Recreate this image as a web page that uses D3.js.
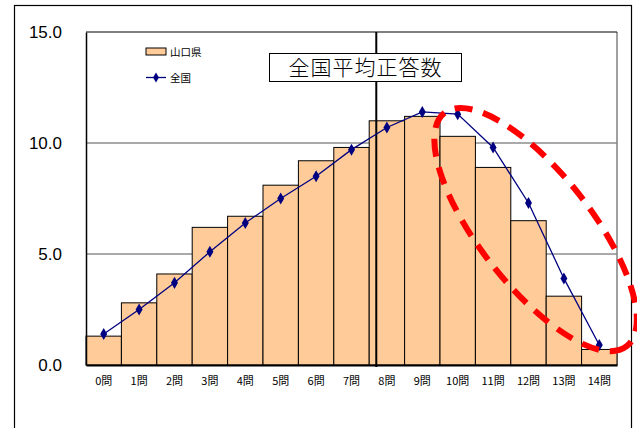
<!DOCTYPE html>
<html>
<head>
<meta charset="utf-8">
<script src="https://cdn.jsdelivr.net/npm/d3@7"></script>
<style>
  body { margin: 0; background: #fff; }
  svg { display: block; }
</style>
</head>
<body>
<div id="chart"></div>
<script>
// categories / values
const questions = ['0問', '1問', '2問', '3問', '4問', '5問', '6問', '7問', '8問', '9問', '10問', '11問', '12問', '13問', '14問'];
const yamaguchi = [1.3, 2.8, 4.1, 6.2, 6.7, 8.1, 9.2, 9.8, 11.0, 11.2, 10.3, 8.9, 6.5, 3.1, 0.7];
const zenkoku = [1.4, 2.5, 3.7, 5.1, 6.4, 7.5, 8.5, 9.7, 10.7, 11.4, 11.3, 9.8, 7.3, 3.9, 0.9];
const yTicks = [0, 5, 10, 15];
const avgScore = 7.7; // 全国平均正答数 line position (in questions)
const seriesNames = ['山口県', '全国'];

const width = 637;
const height = 428;

const svg = d3.select('#chart')
  .append('svg')
  .attr('width', width)
  .attr('height', height);

// outer chart frame (bottom runs off the picture)
svg.append('rect')
  .attr('x', 14.5).attr('y', 5.5)
  .attr('width', 617).attr('height', 440)
  .attr('fill', 'none')
  .attr('stroke', '#000')
  .attr('stroke-width', 1.2);

const plot = { left: 86, right: 617, top: 32, bottom: 365 };

const x = d3.scaleBand()
  .domain(questions)
  .range([plot.left, plot.right])
  .padding(0);

const y = d3.scaleLinear()
  .domain([0, 15])
  .range([plot.bottom, plot.top]);

// linear helper for positions between categories
const xc = d3.scaleLinear()
  .domain([0, questions.length - 1])
  .range([x(questions[0]) + x.bandwidth() / 2, x(questions[questions.length - 1]) + x.bandwidth() / 2]);

// gridlines
svg.append('g')
  .selectAll('line')
  .data(yTicks.filter(d => d > 0 && d < 15))
  .enter()
  .append('line')
  .attr('x1', plot.left).attr('x2', plot.right)
  .attr('y1', d => y(d)).attr('y2', d => y(d))
  .attr('stroke', '#555')
  .attr('stroke-width', 1);

// plot border: right gray, top black
svg.append('line')
  .attr('x1', plot.right).attr('x2', plot.right)
  .attr('y1', plot.top).attr('y2', plot.bottom)
  .attr('stroke', '#808080').attr('stroke-width', 1.5);
svg.append('line')
  .attr('x1', plot.left).attr('x2', plot.right)
  .attr('y1', plot.top).attr('y2', plot.top)
  .attr('stroke', '#000').attr('stroke-width', 1.2);

// bars
svg.append('g')
  .selectAll('.bar')
  .data(yamaguchi)
  .enter()
  .append('rect')
  .attr('class', 'bar')
  .attr('x', (d, i) => x(questions[i]))
  .attr('y', d => y(d))
  .attr('width', x.bandwidth())
  .attr('height', d => y(0) - y(d))
  .attr('fill', '#FFCC99')
  .attr('stroke', '#000')
  .attr('stroke-width', 1);

// axes
const axisY = d3.axisLeft(y).tickValues(yTicks).tickSize(0).tickPadding(24).tickFormat(d3.format('.1f'));
const gy = svg.append('g')
  .attr('transform', `translate(${plot.left}, 0)`)
  .call(axisY);
gy.select('.domain').attr('stroke', '#000').attr('stroke-width', 1.5);
gy.selectAll('text')
  .attr('font-family', 'Arial, "Liberation Sans", sans-serif')
  .attr('font-size', 17)
  .attr('fill', '#000');

const axisX = d3.axisBottom(x).tickSize(0).tickPadding(12);
const gx = svg.append('g')
  .attr('transform', `translate(0, ${plot.bottom})`)
  .call(axisX);
gx.select('.domain').attr('stroke', '#000').attr('stroke-width', 2);
gx.selectAll('text')
  .attr('font-family', '"Noto Sans CJK JP", sans-serif')
  .attr('font-size', 11)
  .attr('fill', '#000');

// average line
svg.append('line')
  .attr('x1', xc(avgScore)).attr('x2', xc(avgScore))
  .attr('y1', plot.top).attr('y2', plot.bottom + 2)
  .attr('stroke', '#000')
  .attr('stroke-width', 2);

// 全国 line
const line = d3.line()
  .x((d, i) => xc(i))
  .y(d => y(d));

svg.append('path')
  .datum(zenkoku)
  .attr('d', line)
  .attr('fill', 'none')
  .attr('stroke', '#000080')
  .attr('stroke-width', 1.3);

const diamond = d3.symbol().type(d3.symbolDiamond).size(42);
svg.append('g')
  .selectAll('path')
  .data(zenkoku)
  .enter()
  .append('path')
  .attr('d', diamond)
  .attr('transform', (d, i) => `translate(${xc(i)}, ${y(d)})`)
  .attr('fill', '#000080');

// legend
const legend = svg.append('g').attr('transform', 'translate(146, 0)');
legend.append('rect')
  .attr('x', 0).attr('y', 48)
  .attr('width', 20).attr('height', 7)
  .attr('fill', '#FFCC99')
  .attr('stroke', '#000');
legend.append('text')
  .attr('x', 24).attr('y', 56)
  .attr('font-family', '"Noto Sans CJK JP", sans-serif')
  .attr('font-size', 10.5)
  .text(seriesNames[0]);
legend.append('line')
  .attr('x1', 0).attr('x2', 20)
  .attr('y1', 77.5).attr('y2', 77.5)
  .attr('stroke', '#000080').attr('stroke-width', 1.3);
legend.append('path')
  .attr('d', d3.symbol().type(d3.symbolDiamond).size(30))
  .attr('transform', 'translate(10, 77.5)')
  .attr('fill', '#000080');
legend.append('text')
  .attr('x', 24).attr('y', 81.5)
  .attr('font-family', '"Noto Sans CJK JP", sans-serif')
  .attr('font-size', 10.5)
  .text(seriesNames[1]);

// title box
const title = svg.append('g');
title.append('rect')
  .attr('x', 269.5).attr('y', 53.5)
  .attr('width', 192).attr('height', 28)
  .attr('fill', '#fff')
  .attr('stroke', '#000')
  .attr('stroke-width', 1);
title.append('text')
  .attr('x', 365.5).attr('y', 75)
  .attr('text-anchor', 'middle')
  .attr('font-family', '"Noto Sans CJK JP", sans-serif')
  .attr('font-weight', 300)
  .attr('font-size', 21)
  .attr('letter-spacing', 1)
  .text('全国平均正答数');

// red dashed ellipse annotation around the lower-scoring range
const ellipseCenter = { q: 12.2, v: 6.1 };
svg.append('ellipse')
  .attr('cx', 0).attr('cy', 0)
  .attr('rx', 148).attr('ry', 56)
  .attr('transform', `translate(${xc(ellipseCenter.q)}, ${y(ellipseCenter.v)}) rotate(52)`)
  .attr('fill', 'none')
  .attr('stroke', '#FF0000')
  .attr('stroke-width', 6)
  .attr('stroke-dasharray', '18,11');
</script>
</body>
</html>
